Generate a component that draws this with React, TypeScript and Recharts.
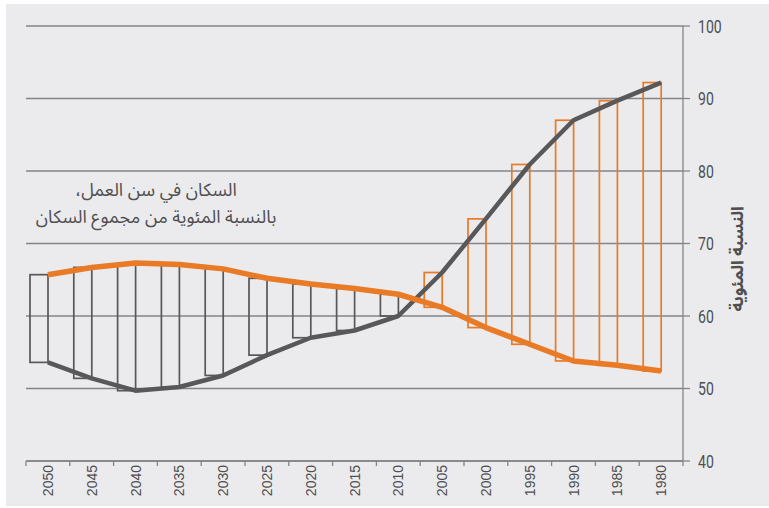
import React from 'react';
import { ComposedChart, Bar, Line, XAxis, YAxis, CartesianGrid } from 'recharts';

const years = ['2050', '2045', '2040', '2035', '2030', '2025', '2020', '2015', '2010', '2005', '2000', '1995', '1990', '1985', '1980'];
const grayValues = [53.6, 51.4, 49.7, 50.2, 51.8, 54.6, 57.0, 58.0, 60.0, 66.0, 73.4, 80.9, 87.0, 89.7, 92.2];
const orangeValues = [65.7, 66.7, 67.3, 67.1, 66.5, 65.2, 64.4, 63.8, 63.0, 61.2, 58.4, 56.1, 53.8, 53.2, 52.4];
const yTicks = [40, 50, 60, 70, 80, 90, 100];
const noteLines = ['السكان في سن العمل،', 'بالنسبة المئوية من مجموع السكان'];
const yTitle = 'النسبة المئوية';

const W = 769;
const H = 508;
const AXIS_RIGHT_W = 86;
const AXIS_BOTTOM_H = 47;
const M = { top: 26, right: 0, bottom: 0, left: 26 };
const PLOT_W = W - M.left - AXIS_RIGHT_W;

const GRID = '#858587';
const GRAY = '#58585a';
const ORANGE = '#e97a26';
const TEXT = '#4f4f51';
const ARABIC_FONT = "'Noto Sans Arabic', 'Noto Naskh Arabic', 'DejaVu Sans', sans-serif";

const data = years.map((year, i) => ({ year, gray: grayValues[i], orange: orangeValues[i] }));

const XTick = (props: any) => {
  const { x, y, payload, index } = props;
  const bw = PLOT_W / years.length;
  return (
    <g>
      <line x1={x - bw / 2} x2={x - bw / 2} y1={y - 4} y2={y + 1} stroke={GRID} strokeWidth={1.3} />
      {index === years.length - 1 && (
        <line x1={x + bw / 2} x2={x + bw / 2} y1={y - 4} y2={y + 1} stroke={GRID} strokeWidth={1.3} />
      )}
      <text
        transform={`translate(${x},${y}) rotate(-90)`}
        x={0}
        y={0}
        dy={5}
        textAnchor="end"
        fontSize={14}
        fontFamily="'Liberation Sans', Arial, sans-serif"
        fill={TEXT}
      >
        {payload.value}
      </text>
    </g>
  );
};

const YTick = (props: any) => {
  const { x, y, payload } = props;
  return (
    <g transform={`translate(${x},${y}) scale(0.76,1)`}>
      <text x={0} y={0} dy={6.5} textAnchor="start" fontSize={18.5} fontFamily="Roboto, sans-serif" fill={TEXT}>
        {payload.value}
      </text>
    </g>
  );
};

const RangeBox = (props: any) => {
  const { x, y, width, height, payload } = props;
  if (x == null || y == null) return null;
  const stroke = payload.orange > payload.gray ? GRAY : ORANGE;
  const top = height < 0 ? y + height : y;
  const h = Math.abs(height);
  return <rect x={x - width / 2} y={top} width={width} height={h} fill="none" stroke={stroke} strokeWidth={1.7} />;
};

export default function App() {
  return (
    <div style={{ position: 'fixed', left: 0, top: 0, width: W, height: H, background: '#ffffff', overflow: 'hidden' }}>
      <div style={{ position: 'absolute', left: 6, top: 4, width: W - 6, height: H - 6, background: '#ebebed' }} />
      <div style={{ position: 'absolute', left: 0, top: 0 }}>
        <ComposedChart width={W} height={H} data={data} margin={M}>
          <CartesianGrid horizontal vertical={false} stroke={GRID} strokeWidth={1.3} />
          <XAxis
            dataKey="year"
            interval={0}
            tickLine={false}
            tickSize={0}
            tickMargin={4}
            height={AXIS_BOTTOM_H}
            axisLine={{ stroke: GRID, strokeWidth: 1.3 }}
            tick={<XTick />}
          />
          <YAxis
            orientation="right"
            domain={[40, 100]}
            ticks={yTicks}
            interval={0}
            width={AXIS_RIGHT_W}
            tickSize={7}
            tickMargin={8}
            axisLine={{ stroke: GRID, strokeWidth: 1.3 }}
            tickLine={{ stroke: GRID, strokeWidth: 1.3 }}
            tick={<YTick />}
            allowDataOverflow
          />
          <Bar
            dataKey={(d: any) => [Math.min(d.gray, d.orange), Math.max(d.gray, d.orange)]}
            barSize={18}
            shape={<RangeBox />}
            isAnimationActive={false}
          />
          <Line
            type="linear"
            dataKey="gray"
            stroke={GRAY}
            strokeWidth={4.5}
            strokeLinejoin="round"
            dot={false}
            activeDot={false}
            isAnimationActive={false}
          />
          <Line
            type="linear"
            dataKey="orange"
            stroke={ORANGE}
            strokeWidth={5.5}
            strokeLinejoin="round"
            dot={false}
            activeDot={false}
            isAnimationActive={false}
          />
        </ComposedChart>
      </div>
      <svg width={W} height={H} style={{ position: 'absolute', left: 0, top: 0, pointerEvents: 'none' }}>
        <text x={156} y={196} textAnchor="middle" direction="rtl" fontSize={18} fontFamily={ARABIC_FONT} fill={TEXT}>
          {noteLines[0]}
        </text>
        <text x={156} y={223} textAnchor="middle" direction="rtl" fontSize={18} fontFamily={ARABIC_FONT} fill={TEXT}>
          {noteLines[1]}
        </text>
        <text
          transform={`translate(737,259) rotate(-90)`}
          x={0}
          y={0}
          dy={6}
          textAnchor="middle"
          direction="rtl"
          fontSize={17}
          fontWeight="bold"
          fontFamily={ARABIC_FONT}
          fill={TEXT}
        >
          {yTitle}
        </text>
      </svg>
    </div>
  );
}
